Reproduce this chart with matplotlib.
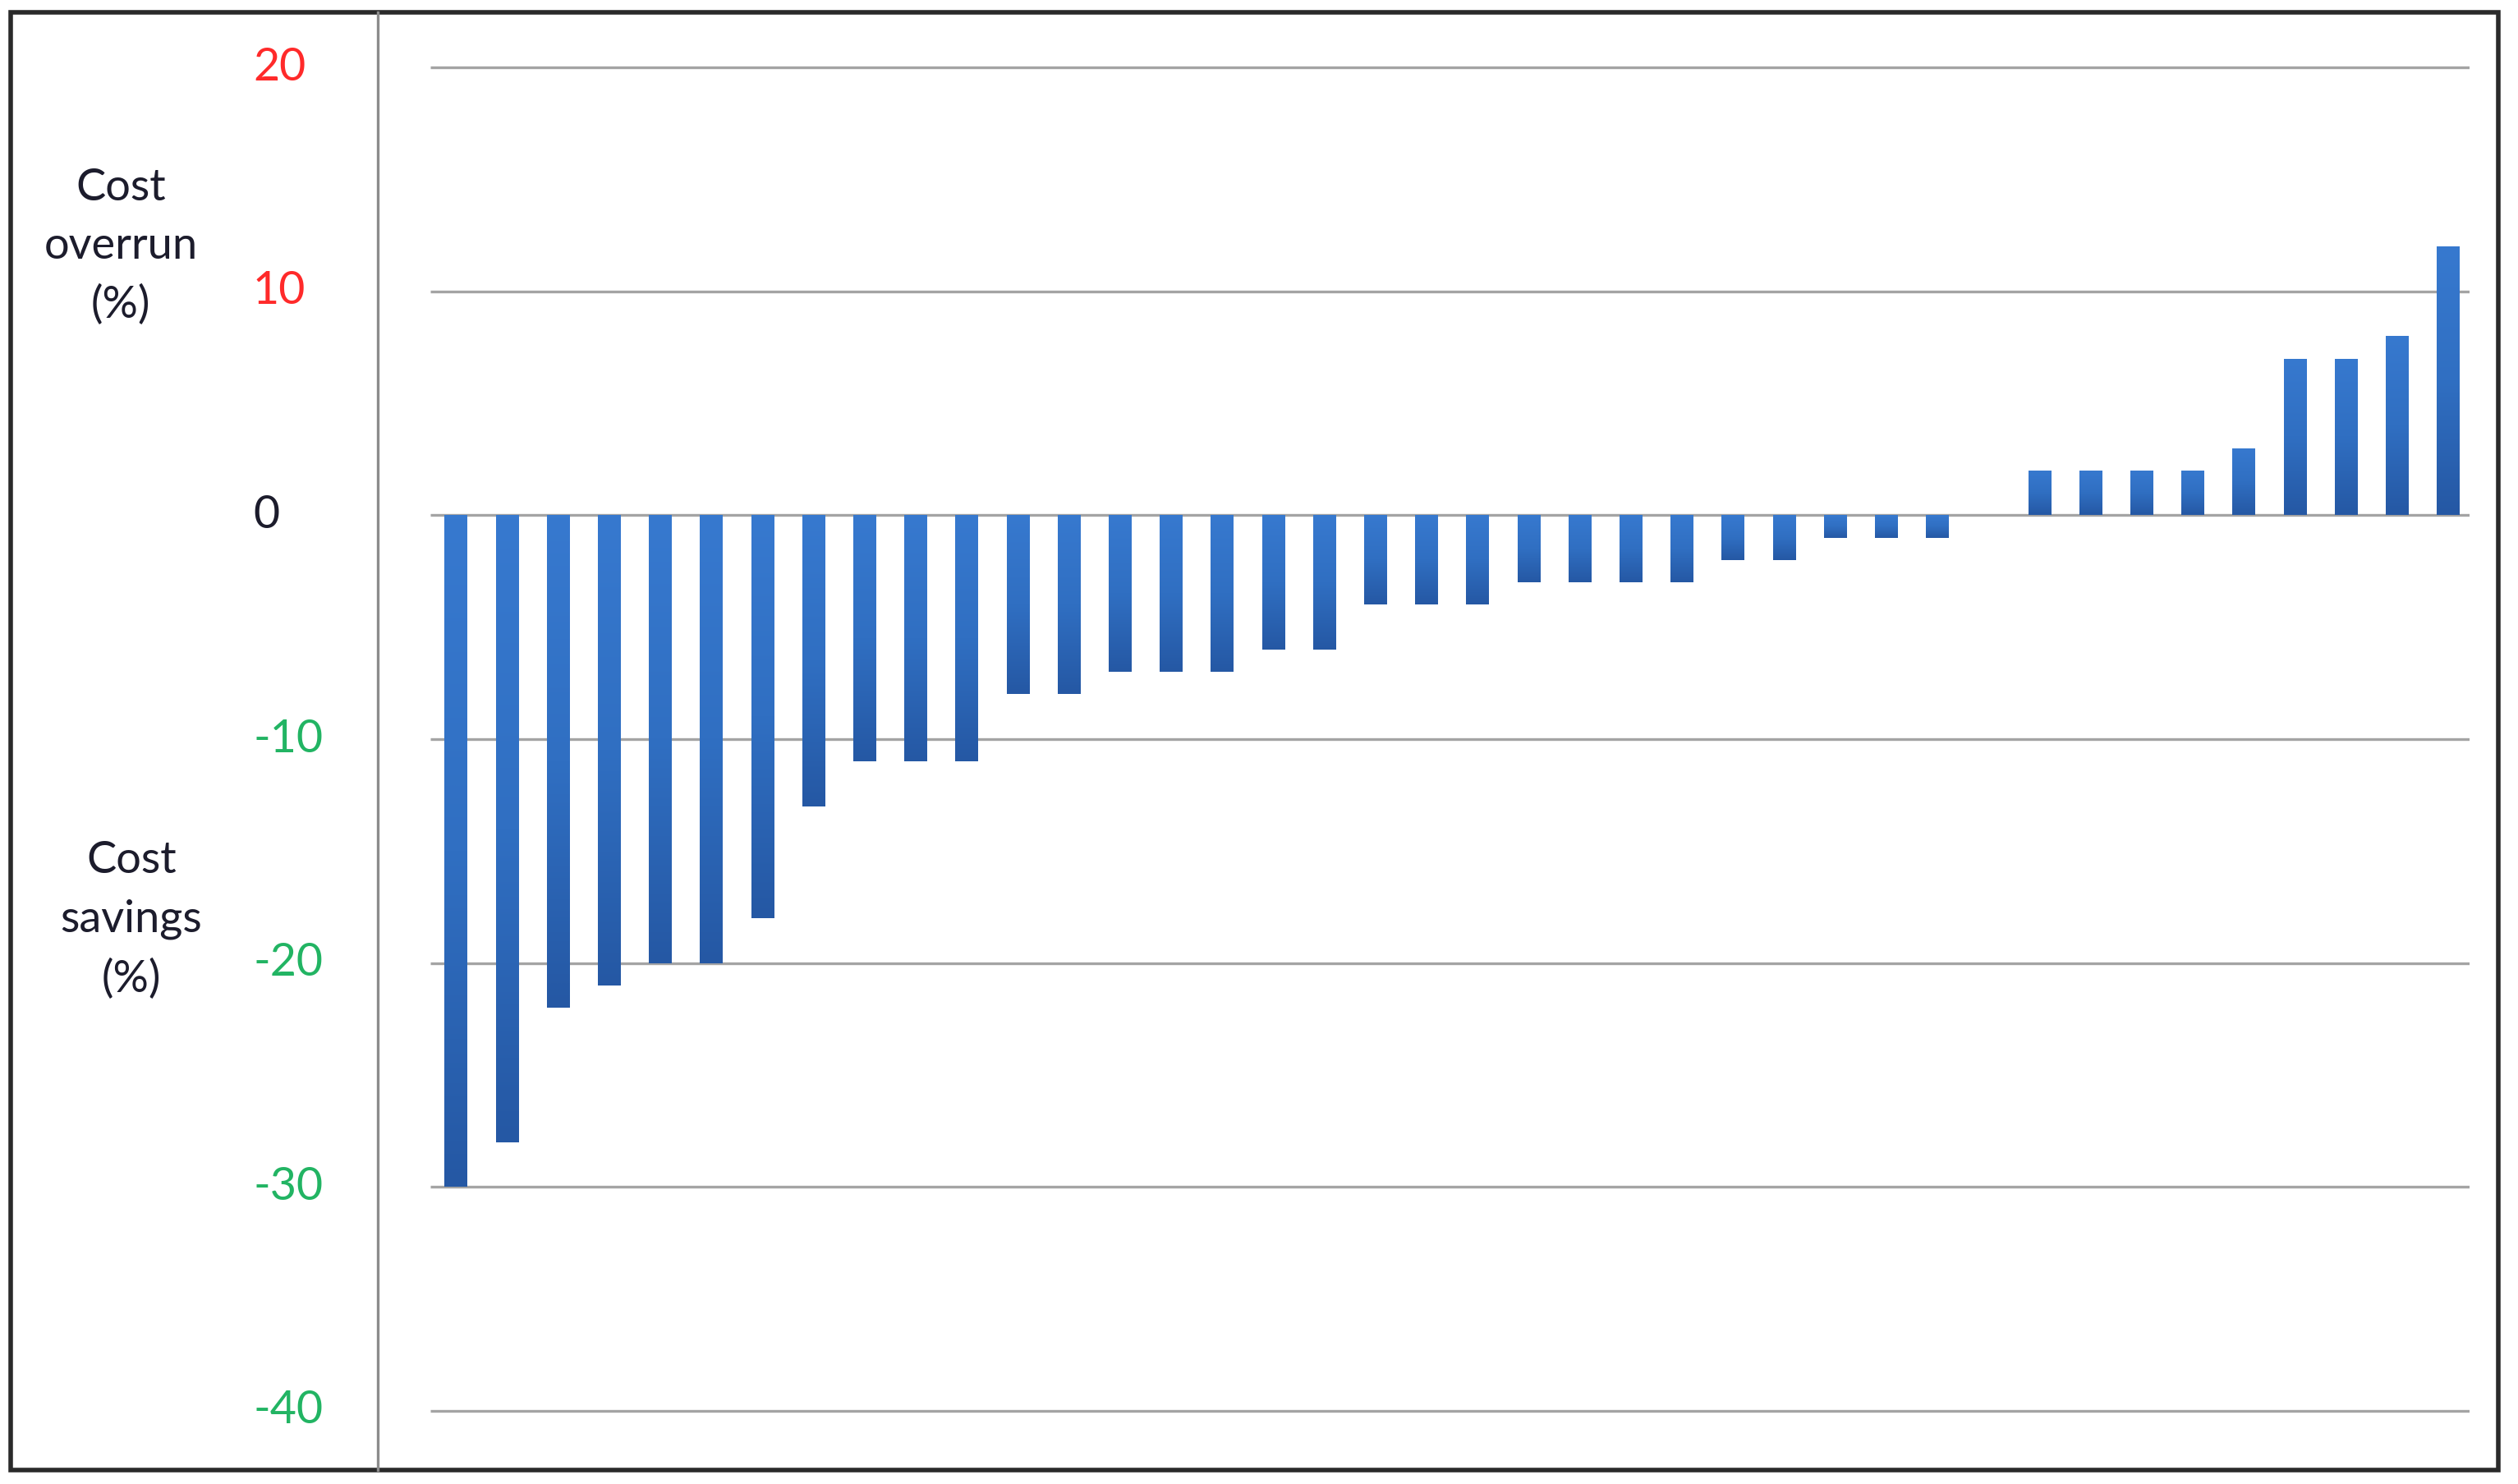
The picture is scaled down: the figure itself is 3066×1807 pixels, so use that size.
import matplotlib
matplotlib.use('Agg')
import matplotlib.pyplot as plt
import numpy as np
from matplotlib.colors import LinearSegmentedColormap
from matplotlib.patches import Rectangle
from matplotlib.lines import Line2D
import matplotlib.transforms as mtransforms

# data (sorted projects, % cost deviation)
values = [-30, -28, -22, -21, -20, -20, -18, -13, -11, -11,
          -11, -8, -8, -7, -7, -7, -6, -6, -4, -4,
          -4, -3, -3, -3, -3, -2, -2, -1, -1, -1,
          0, 2, 2, 2, 2, 3, 7, 7, 8, 12]
ytick_values = [20, 10, 0, -10, -20, -30, -40]
ytick_colors = ['#ff2a2a', '#ff2a2a', '#1c1c2c', '#22b463', '#22b463', '#22b463', '#22b463']
label_top = 'Cost\noverrun\n(%)'
label_bottom = 'Cost\nsavings\n(%)'

W, H = 3066, 1807
plt.rcParams['font.family'] = ['Lato', 'DejaVu Sans']

fig = plt.figure(figsize=(W / 100, H / 100), dpi=100)
fig.patch.set_facecolor('white')

# axes placed in pixel coords of the reference
ax = fig.add_axes([524 / W, 1 - 1745 / H, (3007 - 524) / W, (1745 - 55) / H])
ax.set_axis_off()

x = np.arange(len(values))
x_right = 39.42

ax.hlines(ytick_values, -0.5, x_right, color='#a4a4a4', lw=2.4, zorder=1)

bars = ax.bar(x, values, width=0.44, color='#2e69bb', zorder=2, linewidth=0)

# vertical gradient on each bar, lighter at top, darker at bottom
cmap = LinearSegmentedColormap.from_list('barblue', ['#3779cf', '#306fc2', '#2558a4'])
grad = np.linspace(0, 1, 200).reshape(-1, 1)
for b, v in zip(bars, values):
    if v == 0:
        continue
    x0 = b.get_x()
    x1 = x0 + b.get_width()
    y_lo = min(0, v)
    y_hi = max(0, v)
    im = ax.imshow(grad, extent=[x0, x1, y_lo, y_hi], aspect='auto', cmap=cmap,
                   origin='upper', zorder=3, interpolation='bicubic')
    im.set_clip_path(b)

ax.set_xlim(-0.5, x_right)
ax.set_ylim(-41, 21)

# tick labels, left aligned in the label column
trans = mtransforms.blended_transform_factory(fig.transFigure, ax.transData)
for v, c in zip(ytick_values, ytick_colors):
    ax.text(308 / W, v, str(v), transform=trans, ha='left', va='center',
            fontsize=40, color=c)

fig.text(147 / W, 1 - 300 / H, label_top, ha='center', va='center',
         fontsize=39, color='#1c1c2c', linespacing=1.55)
fig.text(160 / W, 1 - 1120 / H, label_bottom, ha='center', va='center',
         fontsize=39, color='#1c1c2c', linespacing=1.55)

# outer frame and divider between label column and plot
fig.patches.append(Rectangle((13 / W, 1 - 1790 / H), (3042 - 13) / W, (1790 - 15) / H,
                             transform=fig.transFigure, fill=False,
                             edgecolor='#2a2a2a', lw=4))
fig.lines.append(Line2D([460 / W, 460 / W], [1 - 15 / H, 1 - 1790 / H],
                        transform=fig.transFigure, color='#8c8c8c', lw=2.4))

fig.savefig('out.png', dpi=100)
